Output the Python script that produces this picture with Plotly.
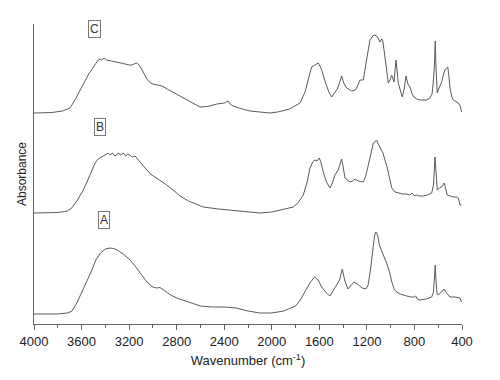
import plotly.graph_objects as go

# Wavenumbers (cm^-1) and absorbance (arbitrary units, offset-stacked)
wn_A = [4000, 3800, 3720, 3680, 3640, 3600, 3560, 3520, 3480, 3440, 3400, 3360, 3330, 3300, 3250,
        3200, 3150, 3100, 3050, 3000, 2970, 2940, 2900, 2850, 2800, 2700, 2600, 2500, 2400, 2300,
        2200, 2100, 2000, 1900, 1800, 1760, 1720, 1680, 1640, 1610, 1580, 1540, 1510, 1480, 1460,
        1430, 1407, 1385, 1359, 1330, 1309, 1280, 1240, 1208, 1190, 1170, 1150, 1135, 1124, 1110,
        1095, 1076, 1055, 1034, 1010, 990, 970, 950, 920, 866, 830, 800, 790, 775, 754, 700, 655,
        640, 630, 625, 620, 610, 599, 575, 549, 530, 501, 460, 417, 403]
abs_A = [10, 10, 11, 13, 21, 31, 41, 52, 64, 71, 75, 76, 75.5, 74, 70,
         65, 58, 50, 42, 37, 36, 36.5, 33, 29, 26, 22, 18, 17, 17, 16,
         13, 11, 11, 13, 18, 24, 32, 41, 47, 44, 37, 31, 28, 34, 39,
         44, 55, 43, 35, 39, 42, 40, 36, 35, 39, 54, 76, 89, 92, 89,
         79, 74, 67, 61, 52, 42, 35, 32, 30, 28, 27, 27, 28, 25, 24, 25, 27,
         32, 49, 59, 46, 30, 29, 32, 35, 31, 27, 27, 26, 22]

wn_B = [4000, 3800, 3720, 3683, 3640, 3585, 3540, 3486, 3460, 3431, 3410, 3390, 3375, 3360, 3340,
        3320, 3305, 3290, 3270, 3249, 3230, 3210, 3195, 3170, 3150, 3137, 3110, 3090, 3066, 3020,
        2968, 2930, 2884, 2830, 2772, 2700, 2640, 2576, 2450, 2352, 2250, 2100, 2000, 1900, 1819,
        1780, 1735, 1700, 1679, 1655, 1637, 1620, 1600, 1585, 1567, 1540, 1511, 1490, 1469, 1441,
        1425, 1412, 1398, 1384, 1342, 1320, 1300, 1270, 1230, 1210, 1188, 1165, 1146, 1125, 1118,
        1105, 1084, 1065, 1048, 1030, 1006, 990, 964, 930, 900, 866, 840, 820, 800, 782, 760, 726,
        690, 655, 640, 627, 618, 608, 590, 571, 549, 535, 524, 500, 470, 445, 430, 417, 403]
abs_B = [111, 111.5, 113, 116, 123, 134, 146, 161, 165, 167, 169, 170, 171, 169, 171,
         168, 169, 171, 169, 171, 168, 170, 169, 167, 168, 166, 162, 159, 156, 150,
         146, 143, 139, 134, 128, 123, 120, 117, 115, 114, 113, 111, 112, 115, 117,
         121, 129, 143, 156, 162, 164, 163, 166, 161, 152, 142, 136, 141, 149, 154,
         159, 165, 156, 146, 142, 143, 145, 143, 142, 148, 159, 172, 181, 183, 184,
         180, 176, 171, 164, 157, 144, 136, 132, 131, 130, 130, 129, 131, 128, 129, 128, 128,
         129, 131, 139, 167, 149, 134, 136, 137, 141, 134, 129, 128, 127, 127, 126, 119, 119]

wn_C = [4000, 3850, 3760, 3697, 3660, 3620, 3580, 3540, 3500, 3460, 3445, 3430, 3410, 3390, 3350,
        3300, 3250, 3200, 3176, 3150, 3134, 3110, 3080, 3050, 3020, 3000, 2960, 2924, 2880, 2800,
        2700, 2604, 2540, 2461, 2400, 2368, 2350, 2326, 2250, 2183, 2100, 2015, 1950, 1850, 1763,
        1720, 1690, 1665, 1637, 1620, 1609, 1595, 1580, 1550, 1520, 1496, 1470, 1449, 1425, 1412,
        1395, 1370, 1328, 1300, 1286, 1270, 1258, 1240, 1230, 1210, 1190, 1174, 1150, 1132, 1110,
        1090, 1075, 1067, 1048, 1030, 1020, 1005, 992, 972, 960, 955, 945, 936, 915, 902, 885, 871,
        855, 838, 820, 804, 780, 754, 700, 670, 652, 642, 632, 625, 618, 608, 590, 571, 555, 543,
        530, 520, 510, 501, 485, 473, 431, 415, 403]
abs_C = [211, 211.5, 213, 216, 223, 232, 241, 250, 257, 264, 265, 264, 266, 264, 263,
         262, 260.5, 259, 259, 260.5, 261, 258, 252, 245, 241, 240, 239, 238, 235, 230,
         223, 217, 217.5, 220, 221, 223, 220, 218, 215, 213, 212, 211, 212, 215, 221,
         232, 246, 257, 259, 260, 261, 258, 254, 242, 232, 227, 231, 235, 243, 248,
         241, 236, 233, 234, 236, 240, 244, 244, 244, 259, 274, 284, 288, 289, 287,
         282, 285, 284, 267, 249, 241, 244, 249, 242, 256, 264, 252, 241, 232, 227, 236, 248,
         240, 237, 230, 227, 225, 224, 224, 226, 230, 241, 259, 283, 254, 231, 237, 242, 250, 254,
         256, 257, 248, 236, 227, 224, 221, 218, 212]

labels = ["A", "B", "C"]
label_wn = [3411, 3445, 3487]
label_abs = [104, 197, 295]

tick_vals = [4000, 3600, 3200, 2800, 2400, 2000, 1600, 1200, 800, 400]
minor_vals = [3800, 3400, 3000, 2600, 2200, 1800, 1400, 1000, 600]

line_color = "#5a5a5a"
fig = go.Figure()
for wn, ab in [(wn_A, abs_A), (wn_B, abs_B), (wn_C, abs_C)]:
    fig.add_trace(go.Scatter(x=wn, y=ab, mode="lines",
                             line=dict(color=line_color, width=1), showlegend=False,
                             hoverinfo="skip"))

for lab, x, y in zip(labels, label_wn, label_abs):
    fig.add_annotation(x=x, y=y, xref="x", yref="y", text=lab, showarrow=False,
                       font=dict(family="Liberation Sans, Arial", size=12, color="#333"),
                       bordercolor="#777", borderwidth=1, borderpad=1, bgcolor="white")

# page body has an 8px margin, so the margins below are shifted to compensate
fig.update_layout(
    width=500, height=380,
    margin=dict(l=26, r=46, t=16, b=64),
    paper_bgcolor="white", plot_bgcolor="white",
    font=dict(family="Liberation Sans, Arial", size=13, color="#222"),
    xaxis=dict(range=[4000, 400], tickvals=tick_vals, ticktext=[str(v) for v in tick_vals],
               showline=True, linecolor="#666", linewidth=1, ticks="outside", ticklen=5,
               tickcolor="#666", showgrid=False, zeroline=False,
               minor=dict(tickvals=minor_vals, ticks="outside", ticklen=3, tickcolor="#666"),
               tickfont=dict(size=13),
               title=dict(text="Wavenumber (cm<sup>-1</sup>)", font=dict(size=13), standoff=8),
               automargin=False),
    yaxis=dict(range=[0, 300], showline=True, linecolor="#666", linewidth=1, ticks="",
               showticklabels=False, showgrid=False, zeroline=False,
               title=dict(text="Absorbance", font=dict(size=12), standoff=3),
               automargin=False),
)

fig.write_html("out.html")
